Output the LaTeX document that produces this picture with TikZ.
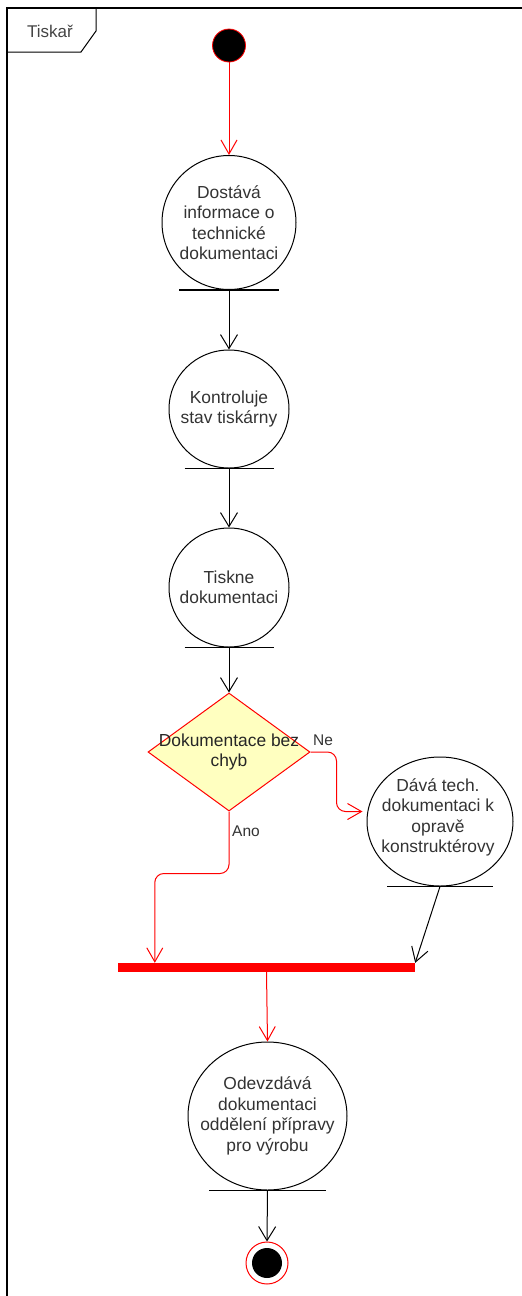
\documentclass[tikz,border=0pt]{standalone}
\usepackage{fontspec}
\setmainfont{Liberation Sans}
\usetikzlibrary{arrows.meta,shapes.geometric,calc}
\definecolor{txt}{HTML}{333333}
\definecolor{lane}{HTML}{444444}
\definecolor{decfill}{HTML}{FFFFC0}
\begin{document}
\begin{tikzpicture}[x=1pt,y=-1pt,
  every node/.style={font=\fontsize{17.4}{20.5}\selectfont, text=txt},
  act/.style={ellipse, draw=black, line width=1pt, inner sep=0pt},
  lbl/.style={align=center, inner sep=0pt},
  actbar/.style={line width=1.4pt, black},
  flow/.style={line width=1pt, black, -{Straight Barb[length=14pt,width=17pt,line width=1pt]}},
  redflow/.style={line width=1pt, red, -{Straight Barb[length=14pt,width=16pt,line width=1pt]}},
  guard/.style={font=\fontsize{15.5}{18}\selectfont, text=txt}]
\useasboundingbox (0,0) rectangle (522,1296);
% swimlane frame and its name tab
\draw[line width=1.4pt] (7,1300) -- (7,8) -- (526,8);
\draw[line width=1pt] (96,8) -- (96,31) -- (81,52) -- (7,52);
\node[text=lane, font=\fontsize{17}{20}\selectfont] (lanename) at (50,31) {Tiskař};

% initial node
\node[circle, fill=black, draw=red, line width=0.8pt, minimum size=33pt, inner sep=0pt] (start) at (229,45.5) {};

% activity shapes (fixed size) with their texts laid on top
\node[act, minimum width=134pt, minimum height=134pt] (a1) at (229,222.5) {};
\node[lbl] (a1t) at (a1.center) {Dostává\\informace o\\technické\\dokumentaci};
\node[act, minimum width=120pt, minimum height=118pt] (a2) at (229,409) {};
\node[lbl] (a2t) at (a2.center) {Kontroluje\\stav tiskárny};
\node[act, minimum width=120pt, minimum height=119pt] (a3) at (229,587.5) {};
\node[lbl] (a3t) at (a3.center) {Tiskne\\dokumentaci};
\node[diamond, draw=red, fill=decfill, line width=1pt, minimum width=162pt, minimum height=118pt,
  inner sep=0pt] (dec) at (229,752) {};
\node[lbl, text=black!85] (dect) at ($(dec.center)+(0,0)$) {Dokumentace bez\\chyb};
\node[act, minimum width=146pt, minimum height=129pt] (fix) at (440,821.5) {};
\node[lbl] (fixt) at ($(fix.center)+(-2,-4)$) {Dává tech.\\dokumentaci k\\opravě\\konstruktérovy};
\node[rectangle, fill=red, minimum width=297pt, minimum height=9pt, inner sep=0pt] (fork) at (266.5,967.5) {};
\node[act, minimum width=159pt, minimum height=148pt] (a4) at (267.5,1116) {};
\node[lbl] (a4t) at (a4.center) {Odevzdává\\dokumentaci\\oddělení přípravy\\pro výrobu};

% final node
\node[circle, draw=red, line width=1pt, fill=white, minimum size=42pt, inner sep=0pt] (stop) at (267,1263) {};
\fill[black] (stop.center) circle (15);

% bars under the activities
\draw[actbar] ($(a1.south)+(-50,0)$) -- ($(a1.south)+(50,0)$);
\draw[actbar] ($(a2.south)+(-44.5,0)$) -- ($(a2.south)+(44.5,0)$);
\draw[actbar] ($(a3.south)+(-44.5,0)$) -- ($(a3.south)+(44.5,0)$);
\draw[actbar] ($(fix.south)+(-53,0)$) -- ($(fix.south)+(53,0)$);
\draw[actbar] ($(a4.south)+(-58.5,0)$) -- ($(a4.south)+(58.5,0)$);

% control flows
\draw[redflow] (start.south) -- (a1.north);
\draw[flow] (a1.south) -- (a2.north);
\draw[flow] (a2.south) -- (a3.north);
\draw[flow] (a3.south) -- (dec.north);
\draw[redflow, rounded corners=9pt] (dec.east) -- ++(26,0) |- ($(fix.west)+(-4,-10)$);
\draw[redflow, rounded corners=9pt] (dec.south) -- ++(0,62) -| ($(fork.north west)+(37,0)$);
\draw[flow] (fix.south) -- (fork.north east);
\draw[redflow] (fork.south) -- (a4.north);
\draw[flow] (a4.south) -- (stop.north);

% guards
\node[guard] (ne) at (323,740) {Ne};
\node[guard] (ano) at (246,831) {Ano};
\end{tikzpicture}
\end{document}
